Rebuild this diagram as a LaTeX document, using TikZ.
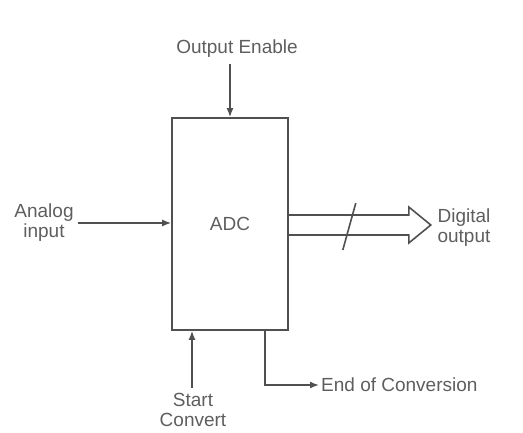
\documentclass[tikz,border=0pt]{standalone}
\usepackage{fontspec}
\setmainfont{Liberation Sans}
\usetikzlibrary{positioning,arrows.meta,calc}
\definecolor{cLine}{HTML}{505050}
\definecolor{cText}{HTML}{5E5E5E}
\tikzset{
  lbl/.style={text=cText,align=center,inner sep=2pt,
              font=\fontsize{19}{20}\selectfont},
  adcbox/.style={draw=cLine,line width=1.6pt,minimum width=116pt,
                 minimum height=212pt,inner sep=0pt},
  sig/.style={draw=cLine,line width=1.6pt,-{Latex[length=9pt,width=7pt]}},
}

\begin{document}
\begin{tikzpicture}[x=1pt,y=-1pt]
  \useasboundingbox (0,0) rectangle (523,433);
  % converter block
  \node[adcbox,lbl] (adc) at (230,224) {ADC};
  % labels
  \node[lbl] (oe) at (237,49) {Output Enable};
  \node[lbl] (ain) at (44,223) {Analog\\input};
  \node[lbl] (dout) at (464,228) {Digital\\output};
  \node[lbl] (sc) at (193,410) {Start\\Convert};
  \node[lbl,anchor=west] (eoc) at (319,385) {End of Conversion};
  \coordinate (eocx) at ($(adc.south)+(35,0)$);
  % control and data lines
  \draw[sig] (adc.north) ++(0,-53) -- (adc.north);
  \draw[sig] (ain.east) ++(2,0) -- (ain.east -| adc.west);
  \draw[sig] (sc.north) ++(-1,-3) -- ($(adc.south)+(-38,0)$);
  \draw[sig] (eocx) |- (eoc.west);
  % bus output
  \draw[cLine,line width=1.6pt,line join=miter]
    ($(adc.east)+(0,-9)$) -- ++(120,0) -- ++(0,-8) -- ++(22,18)
    -- ++(-22,18) -- ++(0,-8) -- ($(adc.east)+(0,11)$);
  \draw[cLine,line width=1.6pt] ($(adc.east)+(67,-21)$) -- ++(-13,47);
\end{tikzpicture}
\end{document}
